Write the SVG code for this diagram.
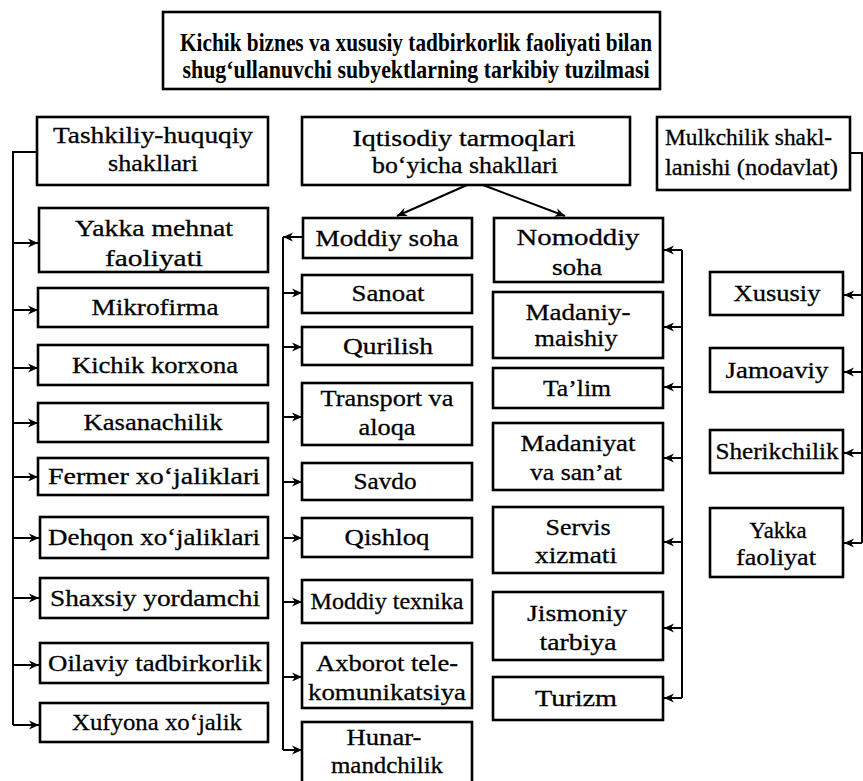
<svg xmlns="http://www.w3.org/2000/svg" width="863" height="781" viewBox="0 0 863 781">
<style>
.b{fill:#fff;stroke:#000;stroke-width:2.6}
.t{font-family:"Liberation Serif","Times New Roman",serif;font-size:24px;fill:#000;stroke:#000;stroke-width:0.3;text-anchor:middle}
.h{font-family:"Liberation Serif","Times New Roman",serif;font-size:25px;font-weight:bold;fill:#000;text-anchor:middle}
.l{fill:none;stroke:#000;stroke-width:2}
</style>
<defs>
<marker id="a" viewBox="0 0 10 10" refX="10" refY="5" markerWidth="10" markerHeight="10" orient="auto" markerUnits="userSpaceOnUse">
<path d="M0,0.5 L10,5 L0,9.5 L3,5 z" fill="#000"/>
</marker>
</defs>
<rect width="863" height="781" fill="#fff"/>

<g id="connectors">
<path class="l" d="M37,152 H13 V725"/>
<path class="l" d="M13,243 H38" marker-end="url(#a)"/>
<path class="l" d="M13,310 H38" marker-end="url(#a)"/>
<path class="l" d="M13,368 H38" marker-end="url(#a)"/>
<path class="l" d="M13,423 H38" marker-end="url(#a)"/>
<path class="l" d="M13,477 H38" marker-end="url(#a)"/>
<path class="l" d="M13,538 H39" marker-end="url(#a)"/>
<path class="l" d="M13,598 H39" marker-end="url(#a)"/>
<path class="l" d="M13,665 H39" marker-end="url(#a)"/>
<path class="l" d="M13,725 H39" marker-end="url(#a)"/>

<path class="l" d="M467,185 L397,216" marker-end="url(#a)"/>
<path class="l" d="M483,185 L565,216" marker-end="url(#a)"/>

<path class="l" d="M303,237 H283" marker-end="url(#a)"/>
<path class="l" d="M283,237 V750"/>
<path class="l" d="M283,293 H302" marker-end="url(#a)"/>
<path class="l" d="M283,347 H302" marker-end="url(#a)"/>
<path class="l" d="M283,417 H302" marker-end="url(#a)"/>
<path class="l" d="M283,482 H302" marker-end="url(#a)"/>
<path class="l" d="M283,538 H302" marker-end="url(#a)"/>
<path class="l" d="M283,602 H302" marker-end="url(#a)"/>
<path class="l" d="M283,677 H302" marker-end="url(#a)"/>
<path class="l" d="M283,750 H302" marker-end="url(#a)"/>

<path class="l" d="M682,250 V698"/>
<path class="l" d="M682,250 H664" marker-end="url(#a)"/>
<path class="l" d="M682,327 H664" marker-end="url(#a)"/>
<path class="l" d="M682,387 H664" marker-end="url(#a)"/>
<path class="l" d="M682,458 H664" marker-end="url(#a)"/>
<path class="l" d="M682,542 H664" marker-end="url(#a)"/>
<path class="l" d="M682,628 H664" marker-end="url(#a)"/>
<path class="l" d="M682,698 H664" marker-end="url(#a)"/>

<path class="l" d="M850,153 H862 V543"/>
<path class="l" d="M862,295 H844" marker-end="url(#a)"/>
<path class="l" d="M862,372 H844" marker-end="url(#a)"/>
<path class="l" d="M862,453 H844" marker-end="url(#a)"/>
<path class="l" d="M862,543 H844" marker-end="url(#a)"/>
</g>

<g id="title">
<rect class="b" x="163" y="12" width="497" height="77"/>
<text class="h" x="416" y="51" textLength="472" lengthAdjust="spacingAndGlyphs">Kichik biznes va xususiy tadbirkorlik faoliyati bilan</text>
<text class="h" x="416" y="78" textLength="467" lengthAdjust="spacingAndGlyphs">shug‘ullanuvchi subyektlarning tarkibiy  tuzilmasi</text>
</g>

<g id="tashkiliy">
<rect class="b" x="37" y="117" width="231" height="68"/>
<text class="t" x="153" y="143" textLength="200" lengthAdjust="spacingAndGlyphs">Tashkiliy-huquqiy</text>
<text class="t" x="153" y="171" textLength="90" lengthAdjust="spacingAndGlyphs">shakllari</text>
</g>
<g id="yakka-mehnat">
<rect class="b" x="39" y="208" width="229" height="64"/>
<text class="t" x="154" y="236" textLength="158" lengthAdjust="spacingAndGlyphs">Yakka mehnat</text>
<text class="t" x="154" y="266" textLength="98" lengthAdjust="spacingAndGlyphs">faoliyati</text>
</g>
<g id="mikrofirma">
<rect class="b" x="38" y="288" width="230" height="39"/>
<text class="t" x="155" y="315" textLength="127" lengthAdjust="spacingAndGlyphs">Mikrofirma</text>
</g>
<g id="kichik-korxona">
<rect class="b" x="38" y="345" width="230" height="40"/>
<text class="t" x="155" y="373" textLength="166" lengthAdjust="spacingAndGlyphs">Kichik korxona</text>
</g>
<g id="kasanachilik">
<rect class="b" x="38" y="403" width="230" height="39"/>
<text class="t" x="153" y="430" textLength="139" lengthAdjust="spacingAndGlyphs">Kasanachilik</text>
</g>
<g id="fermer">
<rect class="b" x="38" y="458" width="230" height="37"/>
<text class="t" x="154" y="484" textLength="212" lengthAdjust="spacingAndGlyphs">Fermer  xo‘jaliklari</text>
</g>
<g id="dehqon">
<rect class="b" x="40" y="517" width="228" height="41"/>
<text class="t" x="154" y="545" textLength="212" lengthAdjust="spacingAndGlyphs">Dehqon  xo‘jaliklari</text>
</g>
<g id="shaxsiy">
<rect class="b" x="40" y="578" width="228" height="40"/>
<text class="t" x="155" y="606" textLength="210" lengthAdjust="spacingAndGlyphs">Shaxsiy  yordamchi</text>
</g>
<g id="oilaviy">
<rect class="b" x="40" y="643" width="228" height="40"/>
<text class="t" x="155" y="671" textLength="214" lengthAdjust="spacingAndGlyphs">Oilaviy  tadbirkorlik</text>
</g>
<g id="xufyona">
<rect class="b" x="40" y="703" width="228" height="39"/>
<text class="t" x="157" y="730" textLength="170" lengthAdjust="spacingAndGlyphs">Xufyona xo‘jalik</text>
</g>

<g id="iqtisodiy">
<rect class="b" x="302" y="117" width="328" height="68"/>
<text class="t" x="464" y="146" textLength="223" lengthAdjust="spacingAndGlyphs">Iqtisodiy  tarmoqlari</text>
<text class="t" x="465" y="173" textLength="186" lengthAdjust="spacingAndGlyphs">bo‘yicha shakllari</text>
</g>
<g id="moddiy-soha">
<rect class="b" x="303" y="218" width="169" height="40"/>
<text class="t" x="387" y="246" textLength="143" lengthAdjust="spacingAndGlyphs">Moddiy  soha</text>
</g>
<g id="sanoat">
<rect class="b" x="302" y="275" width="170" height="38"/>
<text class="t" x="388" y="301" textLength="73" lengthAdjust="spacingAndGlyphs">Sanoat</text>
</g>
<g id="qurilish">
<rect class="b" x="302" y="327" width="170" height="38"/>
<text class="t" x="388" y="354" textLength="90" lengthAdjust="spacingAndGlyphs">Qurilish</text>
</g>
<g id="transport">
<rect class="b" x="302" y="383" width="170" height="62"/>
<text class="t" x="387" y="406" textLength="133" lengthAdjust="spacingAndGlyphs">Transport va</text>
<text class="t" x="387" y="435" textLength="57" lengthAdjust="spacingAndGlyphs">aloqa</text>
</g>
<g id="savdo">
<rect class="b" x="302" y="463" width="170" height="37"/>
<text class="t" x="385" y="489" textLength="63" lengthAdjust="spacingAndGlyphs">Savdo</text>
</g>
<g id="qishloq">
<rect class="b" x="302" y="518" width="170" height="39"/>
<text class="t" x="387" y="545" textLength="85" lengthAdjust="spacingAndGlyphs">Qishloq</text>
</g>
<g id="moddiy-texnika">
<rect class="b" x="302" y="580" width="170" height="43"/>
<text class="t" x="387" y="609" textLength="153" lengthAdjust="spacingAndGlyphs">Moddiy texnika</text>
</g>
<g id="axborot">
<rect class="b" x="302" y="643" width="170" height="65"/>
<text class="t" x="387" y="671" textLength="142" lengthAdjust="spacingAndGlyphs">Axborot tele-</text>
<text class="t" x="387" y="700" textLength="158" lengthAdjust="spacingAndGlyphs">komunikatsiya</text>
</g>
<g id="hunarmandchilik">
<rect class="b" x="302" y="722" width="170" height="70"/>
<text class="t" x="384" y="745" textLength="75" lengthAdjust="spacingAndGlyphs">Hunar-</text>
<text class="t" x="387" y="773" textLength="112" lengthAdjust="spacingAndGlyphs">mandchilik</text>
</g>

<g id="nomoddiy-soha">
<rect class="b" x="494" y="218" width="169" height="64"/>
<text class="t" x="578" y="245" textLength="123" lengthAdjust="spacingAndGlyphs">Nomoddiy</text>
<text class="t" x="577" y="275" textLength="50" lengthAdjust="spacingAndGlyphs">soha</text>
</g>
<g id="madaniy-maishiy">
<rect class="b" x="493" y="292" width="170" height="66"/>
<text class="t" x="578" y="320" textLength="105" lengthAdjust="spacingAndGlyphs">Madaniy-</text>
<text class="t" x="576" y="346" textLength="83" lengthAdjust="spacingAndGlyphs">maishiy</text>
</g>
<g id="talim">
<rect class="b" x="493" y="368" width="170" height="40"/>
<text class="t" x="577" y="396" textLength="68" lengthAdjust="spacingAndGlyphs">Ta’lim</text>
</g>
<g id="madaniyat">
<rect class="b" x="493" y="423" width="170" height="67"/>
<text class="t" x="578" y="451" textLength="115" lengthAdjust="spacingAndGlyphs">Madaniyat</text>
<text class="t" x="576" y="480" textLength="92" lengthAdjust="spacingAndGlyphs">va san’at</text>
</g>
<g id="servis">
<rect class="b" x="493" y="507" width="170" height="66"/>
<text class="t" x="578" y="535" textLength="65" lengthAdjust="spacingAndGlyphs">Servis</text>
<text class="t" x="576" y="563" textLength="82" lengthAdjust="spacingAndGlyphs">xizmati</text>
</g>
<g id="jismoniy">
<rect class="b" x="493" y="592" width="170" height="68"/>
<text class="t" x="577" y="621" textLength="100" lengthAdjust="spacingAndGlyphs">Jismoniy</text>
<text class="t" x="578" y="650" textLength="77" lengthAdjust="spacingAndGlyphs">tarbiya</text>
</g>
<g id="turizm">
<rect class="b" x="493" y="677" width="170" height="43"/>
<text class="t" x="576" y="706" textLength="82" lengthAdjust="spacingAndGlyphs">Turizm</text>
</g>

<g id="mulkchilik">
<rect class="b" x="657" y="117" width="193" height="73"/>
<text class="t" x="665" y="145" style="text-anchor:start" textLength="167" lengthAdjust="spacingAndGlyphs">Mulkchilik shakl-</text>
<text class="t" x="665" y="175" style="text-anchor:start" textLength="173" lengthAdjust="spacingAndGlyphs">lanishi  (nodavlat)</text>
</g>
<g id="xususiy">
<rect class="b" x="710" y="272" width="133" height="43"/>
<text class="t" x="777" y="301" textLength="87" lengthAdjust="spacingAndGlyphs">Xususiy</text>
</g>
<g id="jamoaviy">
<rect class="b" x="710" y="348" width="133" height="44"/>
<text class="t" x="777" y="378" textLength="103" lengthAdjust="spacingAndGlyphs">Jamoaviy</text>
</g>
<g id="sherikchilik">
<rect class="b" x="710" y="430" width="133" height="43"/>
<text class="t" x="777" y="459" textLength="123" lengthAdjust="spacingAndGlyphs">Sherikchilik</text>
</g>
<g id="yakka-faoliyat">
<rect class="b" x="710" y="508" width="133" height="69"/>
<text class="t" x="778" y="538" textLength="57" lengthAdjust="spacingAndGlyphs">Yakka</text>
<text class="t" x="776" y="565" textLength="80" lengthAdjust="spacingAndGlyphs">faoliyat</text>
</g>
</svg>
